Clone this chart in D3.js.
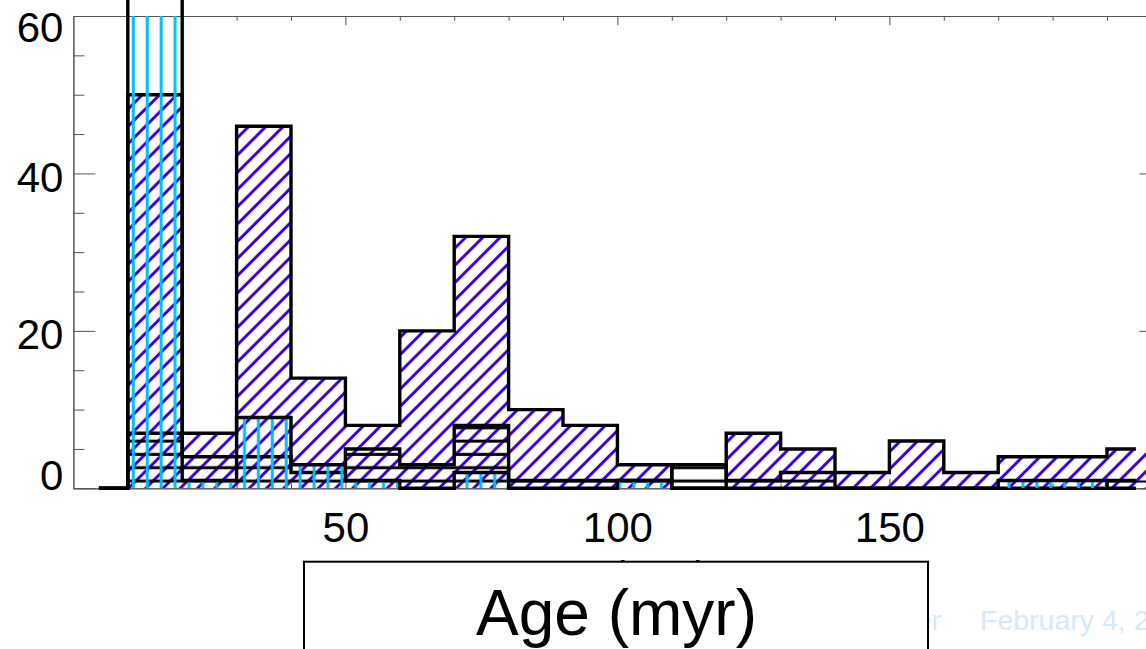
<!DOCTYPE html>
<html>
<head>
<meta charset="utf-8">
<script src="https://cdn.jsdelivr.net/npm/d3@7"></script>
<style>
  html, body { margin: 0; padding: 0; background: #fff; overflow: hidden; }
  svg { display: block; font-family: "Liberation Sans", Arial, Helvetica, sans-serif; }
</style>
</head>
<body>
<svg id="chart" width="1146" height="649"></svg>
<script>
// 10-myr age bins (left edges)
const binStarts = [0, 10, 20, 30, 40, 50, 60, 70, 80, 90, 100, 110, 120, 130, 140, 150, 160, 170, 180, 190];
const binWidth = 10;

// counts per bin for the three overlaid histograms
const countsViolet = [0, 50, 7, 46, 14, 8, 20, 32, 10, 8, 3, 0, 7, 5, 2, 6, 2, 4, 4, 5];
const countsCyan   = [0, 75, 1, 9, 3, 1, 0, 2, 0, 0, 1, 0, 0, 0, 0, 0, 0, 1, 1, 0];
const countsRuled  = [0, 7, 4, 4, 2, 5, 3, 8, 1, 1, 1, 3, 1, 2, 0, 0, 0, 0, 0, 1];

// axis ticks
const xMajorTicks = [50, 100, 150];
const xMinorTicks = [10, 20, 30, 40, 60, 70, 80, 90, 110, 120, 130, 140, 160, 170, 180, 190];
const yMajorTicks = [0, 20, 40, 60];
const yMinorTicks = [5, 10, 15, 25, 30, 35, 45, 50, 55];
const xTitle = "Age (myr)";
const footerLeft = "er";
const footerDate = "February 4, 2";

const svg = d3.select("#chart");
const x = d3.scaleLinear().domain([0, 200]).range([73.4, 1161.4]);
const y = d3.scaleLinear().domain([0, 60]).range([488.3, 16]);

const defs = svg.append("defs");
defs.append("clipPath").attr("id", "plotClip")
  .append("rect")
  .attr("x", x(0)).attr("y", y(60))
  .attr("width", x(200) - x(0)).attr("height", y(0) - y(60));

// line-fill patterns, anchored to the page so neighbouring bars line up
const pViolet = defs.append("pattern").attr("id", "fillViolet")
  .attr("patternUnits", "userSpaceOnUse")
  .attr("width", 12.2).attr("height", 12.2)
  .attr("patternTransform", "rotate(45) translate(3,0)");
pViolet.append("rect").attr("x", 4.6).attr("y", 0).attr("width", 3).attr("height", 12.2).attr("fill", "#3c00d8");

const pCyan = defs.append("pattern").attr("id", "fillCyan")
  .attr("patternUnits", "userSpaceOnUse")
  .attr("width", 13.9).attr("height", 20);
pCyan.append("rect").attr("x", 6.7).attr("y", 0).attr("width", 3).attr("height", 20).attr("fill", "#00beff");

const pRuled = defs.append("pattern").attr("id", "fillRuled")
  .attr("patternUnits", "userSpaceOnUse")
  .attr("width", 20).attr("height", 13.3);
pRuled.append("rect").attr("x", 0).attr("y", 0.7).attr("width", 20).attr("height", 3).attr("fill", "#000");

// ---- axes (thin grey box with inward ticks) ----
const axisColor = "#555";
function styleAxis(g) {
  g.selectAll(".domain").attr("stroke", axisColor).attr("stroke-width", 1);
  g.selectAll(".tick line").attr("stroke", axisColor).attr("stroke-width", 1);
  g.selectAll(".tick text").attr("fill", "#000").attr("font-size", 42)
    .attr("font-family", "'Liberation Sans', Arial, Helvetica, sans-serif");
}
const axesG = svg.append("g");
axesG.append("g").attr("transform", `translate(0,${y(0)})`)
  .call(d3.axisBottom(x).tickValues(xMajorTicks).tickSize(-9.4).tickSizeOuter(0).tickPadding(24))
  .call(styleAxis);
axesG.append("g").attr("transform", `translate(0,${y(0)})`)
  .call(d3.axisBottom(x).tickValues(xMinorTicks).tickSize(-4.7).tickSizeOuter(0).tickFormat(""))
  .call(styleAxis);
axesG.append("g").attr("transform", `translate(0,${y(60)})`)
  .call(d3.axisTop(x).tickValues(xMajorTicks).tickSize(-9.4).tickSizeOuter(0).tickFormat(""))
  .call(styleAxis);
axesG.append("g").attr("transform", `translate(0,${y(60)})`)
  .call(d3.axisTop(x).tickValues(xMinorTicks).tickSize(-4.7).tickSizeOuter(0).tickFormat(""))
  .call(styleAxis);
const leftAxis = axesG.append("g").attr("transform", `translate(${x(0)},0)`)
  .call(d3.axisLeft(y).tickValues(yMajorTicks).tickSize(-22).tickSizeOuter(0).tickPadding(10))
  .call(styleAxis);
// keep the end labels inside the frame, nudge the inner ones slightly down
const [yLo, yHi] = y.range();
leftAxis.selectAll(".tick").each(function (d) {
  const ty = y(d);
  const centre = Math.max(yHi + 10, Math.min(yLo - 14, ty + 3));
  d3.select(this).select("text").attr("y", centre - ty).attr("dy", "0.36em");
});
axesG.append("g").attr("transform", `translate(${x(0)},0)`)
  .call(d3.axisLeft(y).tickValues(yMinorTicks).tickSize(-11).tickSizeOuter(0).tickFormat(""))
  .call(styleAxis);
axesG.append("g").attr("transform", `translate(${x(200)},0)`)
  .call(d3.axisRight(y).tickValues(yMajorTicks).tickSize(-22).tickSizeOuter(0).tickFormat(""))
  .call(styleAxis);
axesG.append("g").attr("transform", `translate(${x(200)},0)`)
  .call(d3.axisRight(y).tickValues(yMinorTicks).tickSize(-11).tickSizeOuter(0).tickFormat(""))
  .call(styleAxis);

// ---- histogram helpers ----
function fillPath(vals) {
  const pts = [];
  vals.forEach((v, i) => {
    pts.push([binStarts[i], v]);
    pts.push([binStarts[i] + binWidth, v]);
  });
  return d3.area().x(d => x(d[0])).y0(y(0)).y1(d => y(d[1]))(pts);
}
// histogram-style step line running from the first bin centre to the last
function stepPath(vals) {
  const n = vals.length;
  const pts = [[binStarts[0] + binWidth / 2, vals[0]]];
  for (let i = 1; i < n; i++) {
    pts.push([binStarts[i], vals[i - 1]]);
    pts.push([binStarts[i], vals[i]]);
  }
  pts.push([binStarts[n - 1] + binWidth / 2, vals[n - 1]]);
  return d3.line().x(d => x(d[0])).y(d => y(d[1]))(pts);
}

const histG = svg.append("g");
function drawHist(vals, fillId) {
  histG.append("path").attr("d", fillPath(vals))
    .attr("fill", `url(#${fillId})`).attr("clip-path", "url(#plotClip)");
  histG.append("path").attr("d", stepPath(vals))
    .attr("fill", "none").attr("stroke", "#000").attr("stroke-width", 3.4)
    .attr("stroke-linejoin", "miter").attr("stroke-linecap", "square");
}
drawHist(countsViolet, "fillViolet");
drawHist(countsRuled, "fillRuled");
drawHist(countsCyan, "fillCyan");

// ---- titles ----
svg.append("text").attr("x", 617).attr("y", 591).attr("text-anchor", "middle")
  .attr("font-size", 42).attr("fill", "#000").text(xTitle);

svg.append("text").attr("x", 941).attr("y", 630).attr("text-anchor", "end")
  .attr("font-size", 28.5).attr("fill", "#d6e9fb").text(footerLeft);
svg.append("text").attr("x", 980).attr("y", 630)
  .attr("font-size", 28.5).attr("fill", "#d6e9fb").text(footerDate);

svg.append("rect").attr("x", 304).attr("y", 561.7).attr("width", 624).attr("height", 120)
  .attr("fill", "#fff").attr("stroke", "#000").attr("stroke-width", 2);
svg.append("text").attr("x", 616.5).attr("y", 635).attr("text-anchor", "middle")
  .attr("font-size", 64).attr("fill", "#000").text(xTitle);
</script>
</body>
</html>
